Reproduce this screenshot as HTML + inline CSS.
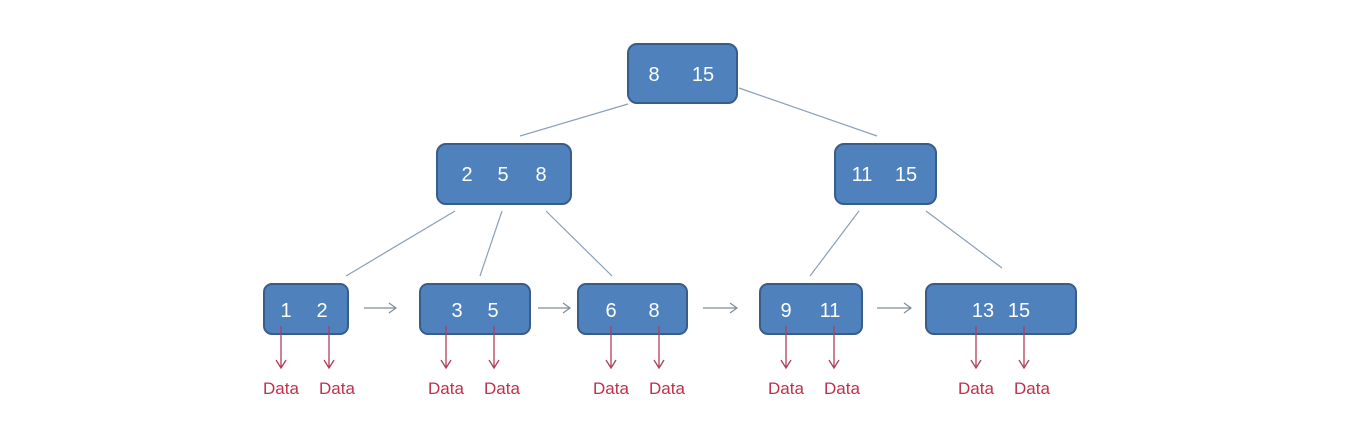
<!DOCTYPE html>
<html><head><style>body{margin:0;background:#fff}svg{display:block}</style></head><body>
<svg width="1367" height="436" viewBox="0 0 1367 436" xmlns="http://www.w3.org/2000/svg" font-family="Liberation Sans, sans-serif">
<g stroke="#8a9fb5" stroke-width="1.2" fill="none">
<line x1="628" y1="104" x2="520" y2="136"/>
<line x1="739" y1="88" x2="877" y2="136"/>
<line x1="455" y1="211" x2="346" y2="276"/>
<line x1="502" y1="211" x2="480" y2="276"/>
<line x1="546" y1="211" x2="612" y2="276"/>
<line x1="859" y1="211" x2="810" y2="276"/>
<line x1="926" y1="211" x2="1002" y2="268"/>
</g>
<g stroke="#7f8c99" stroke-width="1.2" fill="none">
<path d="M364 308H396M389 303L396 308L389 313"/>
<path d="M538 308H570M563 303L570 308L563 313"/>
<path d="M703 308H737M730 303L737 308L730 313"/>
<path d="M877 308H911M904 303L911 308L904 313"/>
</g>
<g fill="#4f81bd" stroke="#385d8a" stroke-width="2">
<rect x="628" y="44" width="109" height="59" rx="9"/>
<rect x="437" y="144" width="134" height="60" rx="9"/>
<rect x="835" y="144" width="101" height="60" rx="9"/>
<rect x="264" y="284" width="84" height="50" rx="8"/>
<rect x="420" y="284" width="110" height="50" rx="8"/>
<rect x="578" y="284" width="109" height="50" rx="8"/>
<rect x="760" y="284" width="102" height="50" rx="8"/>
<rect x="926" y="284" width="150" height="50" rx="8"/>
</g>
<g fill="#fff" font-size="20" text-anchor="middle">
<text x="654" y="81">8</text><text x="703" y="81">15</text>
<text x="467" y="181">2</text><text x="503" y="181">5</text><text x="541" y="181">8</text>
<text x="862" y="181">11</text><text x="906" y="181">15</text>
<text x="286" y="317">1</text><text x="322" y="317">2</text>
<text x="457" y="317">3</text><text x="493" y="317">5</text>
<text x="611" y="317">6</text><text x="654" y="317">8</text>
<text x="786" y="317">9</text><text x="830" y="317">11</text>
<text x="983" y="317">13</text><text x="1019" y="317">15</text>
</g>
<g stroke="#b0405a" stroke-width="1.3" fill="none">
<path d="M281 326V368M276 360L281 368L286 360"/>
<path d="M329 326V368M324 360L329 368L334 360"/>
<path d="M446 326V368M441 360L446 368L451 360"/>
<path d="M494 326V368M489 360L494 368L499 360"/>
<path d="M611 326V368M606 360L611 368L616 360"/>
<path d="M659 326V368M654 360L659 368L664 360"/>
<path d="M786 326V368M781 360L786 368L791 360"/>
<path d="M834 326V368M829 360L834 368L839 360"/>
<path d="M976 326V368M971 360L976 368L981 360"/>
<path d="M1024 326V368M1019 360L1024 368L1029 360"/>
</g>
<g fill="#c0304a" font-size="17" text-anchor="middle">
<text x="281" y="394">Data</text><text x="337" y="394">Data</text>
<text x="446" y="394">Data</text><text x="502" y="394">Data</text>
<text x="611" y="394">Data</text><text x="667" y="394">Data</text>
<text x="786" y="394">Data</text><text x="842" y="394">Data</text>
<text x="976" y="394">Data</text><text x="1032" y="394">Data</text>
</g>
</svg>
</body></html>
